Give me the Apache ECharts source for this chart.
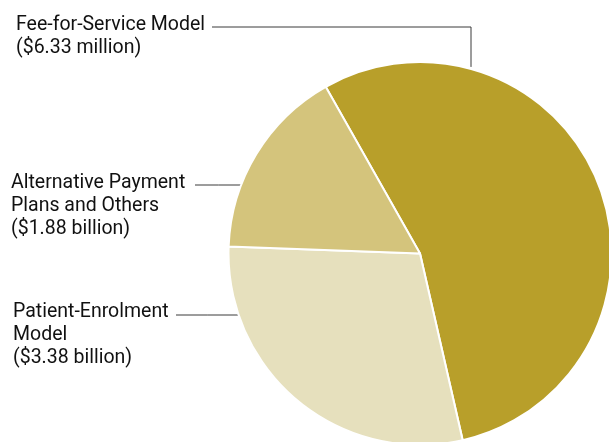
<!DOCTYPE html>
<html>
<head>
<meta charset="utf-8">
<script src="https://cdn.jsdelivr.net/npm/echarts@6/dist/echarts.min.js"></script>
<style>
  html, body { margin: 0; padding: 0; background: #ffffff; }
  #chart { width: 609px; height: 442px; }
</style>
</head>
<body>
<div id="chart"></div>
<script>
// ---- data ----
const categories = ['Fee-for-Service Model', 'Patient-Enrolment\nModel', 'Alternative Payment\nPlans and Others'];
const values = [6.33, 3.38, 1.88];
const valueLabels = ['$6.33 million', '$3.38 billion', '$1.88 billion'];
const colors = ['#b89f2a', '#e6e0bd', '#d4c47c'];

// ---- layout (not data) ----
const CX = 420, CY = 253.5, R = 191.5;
const labelPos = [
  { x: 16, y: 14, lineY: 27, lineX0: 212, attachX: 471 },   // Fee: elbow line
  { x: 13, y: 300.5, lineY: 315, lineX0: 176 },              // Patient
  { x: 11, y: 172, lineY: 185, lineX0: 195 }                 // Alternative
];

const chart = echarts.init(document.getElementById('chart'), null, { renderer: 'canvas' });

const data = categories.map((c, i) => ({
  name: c,
  value: values[i],
  itemStyle: { color: colors[i] }
}));

chart.setOption({
  animation: false,
  backgroundColor: '#ffffff',
  series: [{
    type: 'pie',
    center: [CX, CY],
    radius: R,
    startAngle: 119.5,
    clockwise: true,
    avoidLabelOverlap: false,
    data: data,
    itemStyle: { borderColor: '#ffffff', borderWidth: 2 },
    label: {
      show: true,
      position: 'outside',
      formatter: p => p.name + '\n(' + valueLabels[p.dataIndex] + ')',
      color: '#111111',
      fontFamily: 'Roboto, sans-serif',
      fontSize: 19.5,
      lineHeight: 23,
      align: 'left'
    },
    labelLine: {
      show: true,
      length: 10,
      length2: 10,
      smooth: false,
      lineStyle: { color: '#3a3a3a', width: 1 }
    },
    labelLayout: function (params) {
      const lp = labelPos[params.dataIndex];
      let pts;
      if (lp.attachX !== undefined) {
        const dx = lp.attachX - CX;
        const yEdge = CY - Math.sqrt(R * R - dx * dx) - 2;
        pts = [[lp.attachX, yEdge], [lp.attachX, lp.lineY], [lp.lineX0, lp.lineY]];
      } else {
        const dy = lp.lineY - CY;
        const xEdge = CX - Math.sqrt(R * R - dy * dy) + 1;
        pts = [[xEdge, lp.lineY], [(xEdge + lp.lineX0) / 2, lp.lineY], [lp.lineX0, lp.lineY]];
      }
      return {
        x: lp.x,
        y: lp.y,
        align: 'left',
        verticalAlign: 'top',
        labelLinePoints: pts
      };
    }
  }]
});
</script>
</body>
</html>
